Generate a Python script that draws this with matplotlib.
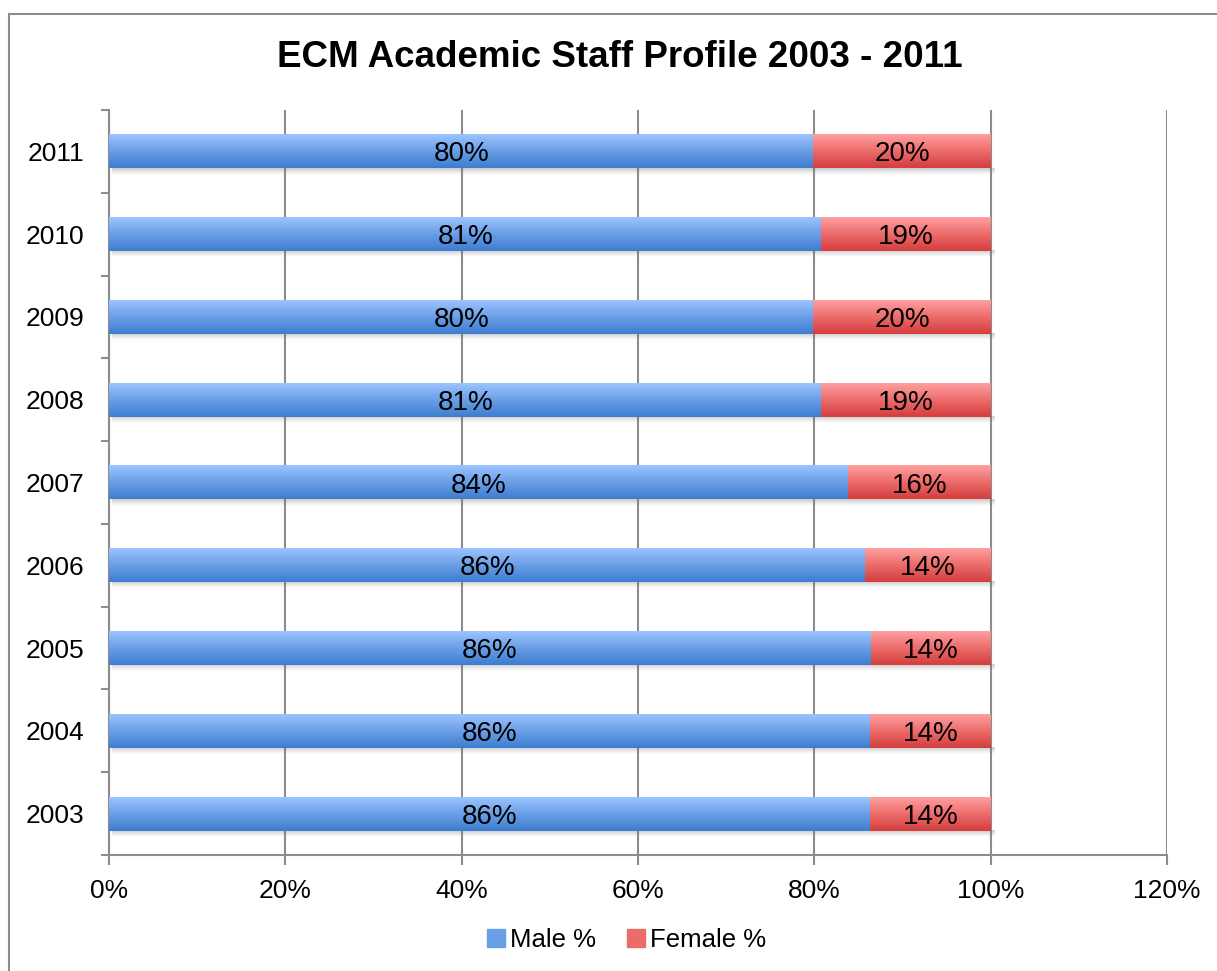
import numpy as np
import matplotlib.pyplot as plt
from matplotlib.colors import LinearSegmentedColormap
from matplotlib.patches import Rectangle

plt.rcParams['font.family'] = ['Liberation Sans', 'DejaVu Sans']

years = ['2003', '2004', '2005', '2006', '2007', '2008', '2009', '2010', '2011']
male_pct = [86.3, 86.3, 86.4, 85.8, 83.8, 80.8, 79.9, 80.8, 79.9]
female_pct = [100 - m for m in male_pct]

xticks = [0, 20, 40, 60, 80, 100, 120]

blue_cm = LinearSegmentedColormap.from_list('blue', ['#3d7dd0', '#6a9ee6', '#9cc3ff'])
red_cm = LinearSegmentedColormap.from_list('red', ['#d43d3d', '#ec6c6c', '#ff9f9f'])
shadow_cm = LinearSegmentedColormap.from_list('shadow', [(0.5, 0.5, 0.5, 0.0), (0.4, 0.4, 0.4, 0.35)])
grad = np.linspace(0, 1, 64).reshape(-1, 1)

fig = plt.figure(figsize=(12.17, 9.71), dpi=100)
ax = fig.add_axes([109 / 1217, 1 - 855 / 971, (1167 - 109) / 1217, (855 - 110) / 971])

ypos = np.arange(len(years))
bar_h = 0.41
male_bars = ax.barh(ypos, male_pct, height=bar_h, color='none', zorder=3)
female_bars = ax.barh(ypos, female_pct, left=male_pct, height=bar_h, color='none', zorder=3)


def fill_gradient(bars, cmap):
    # light at the top edge, darker towards the bottom
    for b in bars:
        x0, y0 = b.get_x(), b.get_y()
        w, h = b.get_width(), b.get_height()
        ax.imshow(grad, cmap=cmap, aspect='auto', origin='lower',
                  extent=[x0, x0 + w, y0, y0 + h], zorder=3, interpolation='bicubic')


fill_gradient(male_bars, blue_cm)
fill_gradient(female_bars, red_cm)

# soft shadow just under each bar
for y, m, f in zip(ypos, male_pct, female_pct):
    bot = y - bar_h / 2
    ax.imshow(grad, cmap=shadow_cm, aspect='auto', origin='lower',
              extent=[0.3, m + f + 0.4, bot - 0.075, bot], zorder=2, interpolation='bicubic')

for y, m, f in zip(ypos, male_pct, female_pct):
    ax.text(m / 2, y, f'{m:.0f}%', ha='center', va='center_baseline', fontsize=20, zorder=4)
    ax.text(m + f / 2, y, f'{f:.0f}%', ha='center', va='center_baseline', fontsize=20, zorder=4)

ax.set_xlim(0, 120)
ax.set_ylim(-0.5, len(years) - 0.5)
ax.set_xticks(xticks)
ax.set_xticklabels([f'{t}%' for t in xticks], fontsize=19)
ax.set_yticks(ypos)
ax.set_yticklabels(years, fontsize=19)
ax.set_yticks(np.arange(-0.5, len(years)), minor=True)
ax.tick_params(axis='y', which='major', length=0, pad=18)
ax.tick_params(axis='y', which='minor', length=6, width=1.5, color='#8c8c8c')
ax.tick_params(axis='x', length=7, width=1.5, color='#8c8c8c', pad=10)

ax.grid(axis='x', color='#8c8c8c', linewidth=1.5, zorder=1)
ax.set_axisbelow(True)
for side in ['top', 'right']:
    ax.spines[side].set_visible(False)
for side in ['left', 'bottom']:
    ax.spines[side].set_color('#8c8c8c')
    ax.spines[side].set_linewidth(1.5)

fig.text(0.509, 0.941, 'ECM Academic Staff Profile 2003 - 2011', ha='center', va='center',
         fontsize=26.5, fontweight='bold')

handles = [Rectangle((0, 0), 1, 1, color='#6a9ee6'), Rectangle((0, 0), 1, 1, color='#ec6c6c')]
fig.legend(handles, ['Male %', 'Female %'], loc='center', bbox_to_anchor=(0.515, 0.032),
           ncol=2, frameon=False, fontsize=18.5, handlelength=0.7, handleheight=0.7,
           handletextpad=0.2, columnspacing=1.2)

# outer chart border
fig.patches.append(Rectangle((9 / 1217, -0.5), 2, 1.5 - 14 / 971, transform=fig.transFigure,
                             fill=False, edgecolor='#8c8c8c', linewidth=1.5))

fig.savefig('out.png', dpi=100)
